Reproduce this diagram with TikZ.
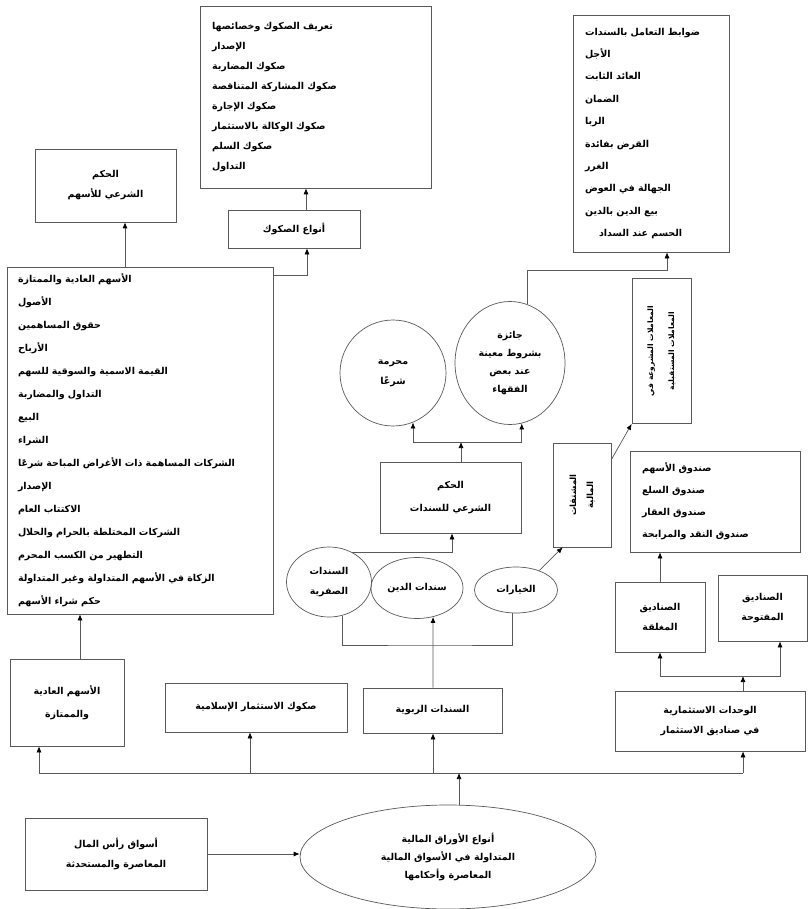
\documentclass[tikz,border=0pt]{standalone}
\usepackage{fontspec}
\newfontfamily\arabicfont[Script=Arabic]{DejaVu Sans}
\TeXXeTstate=1
\usetikzlibrary{shapes.geometric,arrows.meta}
\newcommand{\arl}[1]{\beginR #1\endR}
\newcommand{\txt}[1]{\arabicfont\bfseries\fontsize{9.5}{#1}\selectfont}
\tikzset{
  every node/.style={font=\txt{20}, text=black},
  box/.style={draw=black!65, line width=0.7pt, rectangle, inner sep=0pt, align=center},
  listbox/.style={box, align=left, inner xsep=12pt},
  oval/.style={draw=black!65, line width=0.7pt, ellipse, inner sep=0pt, align=center},
  link/.style={draw=black!65, line width=0.7pt},
  arr/.style={link, -{Latex[length=6pt,width=5pt,color=black]}},
}
\begin{document}
\begin{tikzpicture}[x=1pt,y=-1pt]
\useasboundingbox (0,0) rectangle (810,909);
\fill[white] (0,0) rectangle (810,909);

% ---- upper row ----
\node[box, minimum width=141pt, minimum height=73pt] (tl) at (105.5,185.5)
  {\arl{الحكم}\\\arl{الشرعي للأسهم}};
\node[listbox, text width=207pt, minimum height=182pt, font=\txt{20}] (tm) at (315.5,97)
  {\arl{تعريف الصكوك وخصائصها}\\
   \arl{الإصدار}\\
   \arl{صكوك المضاربة}\\
   \arl{صكوك المشاركة المتناقصة}\\
   \arl{صكوك الإجارة}\\
   \arl{صكوك الوكالة بالاستثمار}\\
   \arl{صكوك السلم}\\
   \arl{التداول}};
\node[box, minimum width=132pt, minimum height=38pt] (ts) at (294,229)
  {\arl{أنواع الصكوك}};
\node[listbox, text width=132pt, minimum height=237pt, font=\txt{22.4}] (tr) at (651,133.5)
  {\arl{ضوابط التعامل بالسندات}\\
   \arl{الأجل}\\
   \arl{العائد الثابت}\\
   \arl{الضمان}\\
   \arl{الربا}\\
   \arl{القرض بفائدة}\\
   \arl{الغرر}\\
   \arl{الجهالة في العوض}\\
   \arl{بيع الدين بالدين}\\
   \hspace*{14pt}\arl{الحسم عند السداد}};

% ---- large list on the left ----
\node[listbox, inner xsep=11pt, text width=244pt, minimum height=347pt, font=\txt{23}] (big) at (140,440.5)
  {\arl{الأسهم العادية والممتازة}\\
   \arl{الأصول}\\
   \arl{حقوق المساهمين}\\
   \arl{الأرباح}\\
   \arl{القيمة الاسمية والسوقية للسهم}\\
   \arl{التداول والمضاربة}\\
   \arl{البيع}\\
   \arl{الشراء}\\
   \arl{الشركات المساهمة ذات الأغراض المباحة شرعًا}\\
   \arl{الإصدار}\\
   \arl{الاكتتاب العام}\\
   \arl{الشركات المختلطة بالحرام والحلال}\\
   \arl{التطهير من الكسب المحرم}\\
   \arl{الزكاة في الأسهم المتداولة وغير المتداولة}\\
   \arl{حكم شراء الأسهم}};

% ---- middle: rulings on bonds ----
\node[oval, minimum width=106pt, minimum height=106pt] (cL) at (393,373)
  {\arl{محرمة}\\\arl{شرعًا}};
\node[oval, minimum width=110pt, minimum height=123pt, font=\txt{18}] (cR) at (510,363)
  {\arl{جائزة}\\\arl{بشروط معينة}\\\arl{عند بعض}\\\arl{الفقهاء}};
\node[box, minimum width=141pt, minimum height=71pt, font=\txt{23}] (mbx) at (450.5,497.5)
  {\arl{الحكم}\\\arl{الشرعي للسندات}};
\node[oval, minimum width=85pt, minimum height=70pt] (e1) at (329,582)
  {\arl{السندات}\\\arl{الصفرية}};
\node[oval, minimum width=92pt, minimum height=61pt] (e2) at (417,588)
  {\arl{سندات الدين}};
\node[oval, minimum width=83pt, minimum height=46pt] (e3) at (516,590)
  {\arl{الخيارات}};

% ---- vertical boxes ----
\node[box, minimum width=58pt, minimum height=104pt] (vs) at (582,495) {};
\node[rotate=90, align=center, font=\arabicfont\bfseries\fontsize{8.5}{17}\selectfont] (vstxt) at (vs.center)
  {\arl{المشتقات}\\\arl{المالية}};
\node[box, minimum width=59pt, minimum height=145pt] (vt) at (661.5,351) {};
\node[rotate=90, align=center, font=\arabicfont\bfseries\fontsize{7.5}{21}\selectfont] (vttxt) at (vt.center)
  {\arl{المعاملات المشروعة في}\\\arl{المعاملات المستقبلية}};

% ---- right: investment units ----
\node[listbox, text width=146pt, minimum height=101pt, font=\txt{22}] (rl) at (715,501.5)
  {\arl{صندوق الأسهم}\\
   \arl{صندوق السلع}\\
   \arl{صندوق العقار}\\
   \arl{صندوق النقد والمرابحة}};
\node[box, minimum width=90pt, minimum height=70pt] (rs1) at (660,617)
  {\arl{الصناديق}\\\arl{المغلقة}};
\node[box, minimum width=89pt, minimum height=66pt] (rs2) at (762.5,608)
  {\arl{الصناديق}\\\arl{المفتوحة}};
\node[box, minimum width=190pt, minimum height=60pt] (brb) at (710,721)
  {\arl{الوحدات الاستثمارية}\\\arl{في صناديق الاستثمار}};

% ---- lower row ----
\node[box, minimum width=114pt, minimum height=87pt, font=\txt{23}] (lsb) at (67,702.5)
  {\arl{الأسهم العادية}\\\arl{والممتازة}};
\node[box, minimum width=182pt, minimum height=49pt] (mlb) at (256,707.5)
  {\arl{صكوك الاستثمار الإسلامية}};
\node[box, minimum width=139pt, minimum height=45pt] (mb) at (432.5,710.5)
  {\arl{السندات الربوية}};
\node[oval, minimum width=296pt, minimum height=104pt, font=\txt{18}] (be) at (448,857)
  {\arl{أنواع الأوراق المالية}\\\arl{المتداولة في الأسواق المالية}\\\arl{المعاصرة وأحكامها}};
\node[box, minimum width=182pt, minimum height=72pt] (blb) at (116,854)
  {\arl{أسواق رأس المال}\\\arl{المعاصرة والمستحدثة}};

% ---- junction points ----
\coordinate (j1) at (125,0);
\coordinate (k) at (307,275);
\coordinate (m) at (306,0);
\coordinate (jt) at (667,270);
\coordinate (jc) at (461,442);
\coordinate (jm) at (452,0);
\coordinate (jb) at (433,645);
\coordinate (jr) at (743,676);
\coordinate (r2) at (780,0);
\coordinate (l1) at (80,0);
\coordinate (bus) at (459,773);
\coordinate (b1) at (39,773);
\coordinate (b2) at (250,773);
\coordinate (b3) at (433,773);
\coordinate (b4) at (743,773);

% ---- connectors ----
\draw[arr] (j1 |- big.north) -- (j1 |- tl.south);
\draw[arr] (k -| big.east) -- (k) -- (k |- ts.south);
\draw[arr] (m |- ts.north) -- (m |- tm.south);
\draw[arr] (cR.74) |- (jt) -- (jt |- tr.south);

\draw[arr] (jc |- mbx.north) -- (jc);
\draw[arr] (jc) -| (cL.-68);
\draw[arr] (jc) -| (cR.-79);
\draw[arr] (e1.52) -| (jm |- mbx.south);
\draw[link] (e1.-69) |- (jb) -| (e3.-98);
\draw[arr] (b3 |- mb.north) -- (e2.-61);

\draw[arr] (e3.40) -- ([xshift=10pt]vs.south west);
\draw[arr] ([yshift=-17pt]vs.north east) -- (vt.south west);

\draw[arr] (rs1.north) -- (rs1.north |- rl.south);
\draw[arr] (jr |- brb.north) -- (jr);
\draw[arr] (jr) -| (rs1.south);
\draw[arr] (jr) -| (r2 |- rs2.south);

\draw[arr] (l1 |- lsb.north) -- (l1 |- big.south);
\draw[arr] (bus |- be.north) -- (bus);
\draw[link] (b1) -- (b4);
\draw[arr] (b1) -- (b1 |- lsb.south);
\draw[arr] (b2) -- (b2 |- mlb.south);
\draw[arr] (b3) -- (b3 |- mb.south);
\draw[arr] (b4) -- (b4 |- brb.south);
\draw[arr] (blb.east) -- (blb.east -| be.west);
\end{tikzpicture}
\end{document}
